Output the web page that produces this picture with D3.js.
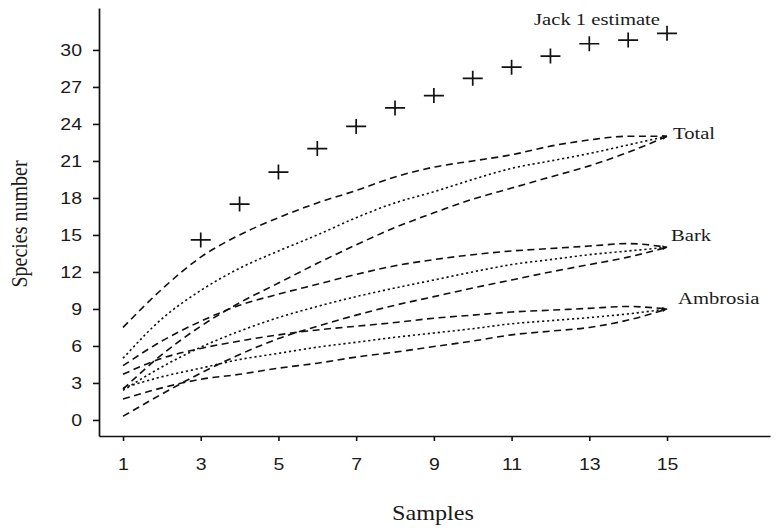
<!DOCTYPE html>
<html>
<head>
<meta charset="utf-8">
<script src="https://cdn.jsdelivr.net/npm/d3@7"></script>
<style>
  html, body { margin: 0; padding: 0; background: #fff; }
  svg { display: block; }
</style>
</head>
<body>
<svg id="chart" width="780" height="532"></svg>
<script>
// ---- data ----
const samples = [1, 2, 3, 4, 5, 6, 7, 8, 9, 10, 11, 12, 13, 14, 15];

const totalUpper    = [7.5, 10.6, 13.2, 15.0, 16.4, 17.6, 18.6, 19.7, 20.5, 21.0, 21.5, 22.2, 22.7, 23.0, 23.0];
const totalMean     = [5.0, 8.2, 10.5, 12.3, 13.7, 15.0, 16.4, 17.6, 18.5, 19.5, 20.4, 21.0, 21.6, 22.3, 23.0];
const totalLower    = [2.5, 5.3, 7.6, 9.5, 11.1, 12.7, 14.2, 15.6, 16.8, 17.9, 18.8, 19.7, 20.6, 21.7, 23.0];

const barkUpper     = [4.4, 6.4, 8.0, 9.3, 10.2, 11.0, 11.8, 12.5, 13.0, 13.4, 13.7, 13.9, 14.1, 14.3, 14.0];
const barkMean      = [2.4, 4.3, 5.9, 7.2, 8.3, 9.2, 10.0, 10.7, 11.35, 12.0, 12.6, 13.0, 13.4, 13.7, 14.0];
const barkLower     = [0.3, 2.1, 3.8, 5.3, 6.6, 7.6, 8.5, 9.3, 10.0, 10.7, 11.35, 12.0, 12.6, 13.2, 14.0];

const ambrosiaUpper = [3.7, 5.0, 5.8, 6.4, 6.9, 7.3, 7.6, 7.9, 8.25, 8.5, 8.75, 8.9, 9.05, 9.2, 9.0];
const ambrosiaMean  = [2.6, 3.5, 4.2, 4.9, 5.4, 5.9, 6.3, 6.7, 7.05, 7.4, 7.8, 8.05, 8.3, 8.6, 9.0];
const ambrosiaLower = [1.7, 2.6, 3.3, 3.7, 4.2, 4.6, 5.1, 5.5, 5.95, 6.4, 6.9, 7.2, 7.5, 8.1, 9.0];

const jackSamples = [3, 4, 5, 6, 7, 8, 9, 10, 11, 12, 13, 14, 15];
const jack1       = [14.6, 17.5, 20.1, 22.0, 23.8, 25.3, 26.3, 27.7, 28.6, 29.5, 30.5, 30.8, 31.35];

const xTicks = [1, 3, 5, 7, 9, 11, 13, 15];
const yTicks = [0, 3, 6, 9, 12, 15, 18, 21, 24, 27, 30];

const groupNames = ["Total", "Bark", "Ambrosia"];

// ---- layout ----
const svg = d3.select("#chart");
const x = d3.scaleLinear().domain([0.382, 17.65]).range([99, 770]);
const y = d3.scaleLinear().domain([-1.3, 33.4]).range([436, 8]);

const sans = "'Liberation Sans', Arial, sans-serif";
const serif = "'Liberation Serif', 'Times New Roman', serif";

// axes
const yAxis = svg.append("g")
  .attr("transform", `translate(${x.range()[0]},0)`)
  .call(d3.axisLeft(y).tickValues(yTicks).tickSize(6).tickSizeOuter(0).tickPadding(11).tickFormat(d3.format("d")));
const xAxis = svg.append("g")
  .attr("transform", `translate(0,${y.range()[0]})`)
  .call(d3.axisBottom(x).tickValues(xTicks).tickSize(5).tickSizeOuter(0).tickPadding(17).tickFormat(d3.format("d")));

[yAxis, xAxis].forEach(g => {
  g.select(".domain").attr("stroke", "#111").attr("stroke-width", 1.7);
  g.selectAll(".tick line").attr("stroke", "#111").attr("stroke-width", 1.6);
  g.selectAll(".tick text")
    .attr("fill", "#1a1a1a")
    .attr("font-family", sans)
    .attr("font-size", 16.5);
});
// horizontally widen tick labels like the reference
yAxis.selectAll(".tick text").each(function() {
  const t = d3.select(this);
  const tx = +t.attr("x");
  t.attr("x", null).attr("transform", `translate(${tx},0) scale(1.18,1)`);
});
xAxis.selectAll(".tick text").each(function() {
  const t = d3.select(this);
  const ty = +t.attr("y");
  t.attr("y", null).attr("transform", `translate(0,${ty}) scale(1.18,1)`);
});

// axis titles
svg.append("text")
  .attr("transform", "translate(433,520) scale(1.18,1)")
  .attr("text-anchor", "middle")
  .attr("font-family", serif).attr("font-size", 20.5).attr("fill", "#1a1a1a")
  .text("Samples");

svg.append("text")
  .attr("transform", "translate(27,224) scale(1.18,1) rotate(-90)")
  .attr("text-anchor", "middle")
  .attr("font-family", serif).attr("font-size", 20).attr("fill", "#1a1a1a")
  .text("Species number");

// curves
const line = d3.line()
  .x((d, i) => x(samples[i]))
  .y(d => y(d))
  .curve(d3.curveMonotoneX);

const series = [
  { v: totalUpper, dash: "7,4.5" }, { v: totalMean, dash: "2.2,2.8" }, { v: totalLower, dash: "7,4.5" },
  { v: barkUpper, dash: "7,4.5" }, { v: barkMean, dash: "2.2,2.8" }, { v: barkLower, dash: "7,4.5" },
  { v: ambrosiaUpper, dash: "7,4.5" }, { v: ambrosiaMean, dash: "2.2,2.8" }, { v: ambrosiaLower, dash: "7,4.5" }
];

svg.append("defs").append("marker")
  .attr("id", "arr")
  .attr("viewBox", "0 0 10 10")
  .attr("refX", 9).attr("refY", 5)
  .attr("markerWidth", 7).attr("markerHeight", 5)
  .attr("markerUnits", "userSpaceOnUse")
  .attr("orient", "auto")
  .append("path").attr("d", "M0,0L10,5L0,10Z").attr("fill", "#111");

svg.append("g").selectAll("path")
  .data(series)
  .join("path")
  .attr("d", d => line(d.v))
  .attr("fill", "none")
  .attr("stroke", "#111")
  .attr("stroke-width", 1.6)
  .attr("stroke-dasharray", d => d.dash)
  .attr("marker-end", (d, i) => i % 3 === 1 ? "url(#arr)" : null);

// group labels
const ends = [totalMean, barkMean, ambrosiaMean];
const labelOffsets = [[6, 3], [4, -6], [11, -5]];
svg.append("g").selectAll("text")
  .data(groupNames)
  .join("text")
  .attr("transform", (d, i) => `translate(${x(15) + labelOffsets[i][0]},${y(ends[i][14]) + labelOffsets[i][1]}) scale(1.25,1)`)
  .attr("font-family", serif).attr("font-size", 16.5).attr("fill", "#1a1a1a")
  .text(d => d);

// Jack 1 estimate crosses
svg.append("g").selectAll("path")
  .data(jack1)
  .join("path")
  .attr("transform", (d, i) => `translate(${x(jackSamples[i])},${y(d)})`)
  .attr("d", "M-10,0H10M0,-7.5V7.5")
  .attr("stroke", "#111")
  .attr("stroke-width", 1.7)
  .attr("fill", "none");

svg.append("text")
  .attr("transform", `translate(597,25) scale(1.25,1)`)
  .attr("text-anchor", "middle")
  .attr("font-family", serif).attr("font-size", 16.5).attr("fill", "#1a1a1a")
  .text("Jack 1 estimate");
</script>
</body>
</html>
